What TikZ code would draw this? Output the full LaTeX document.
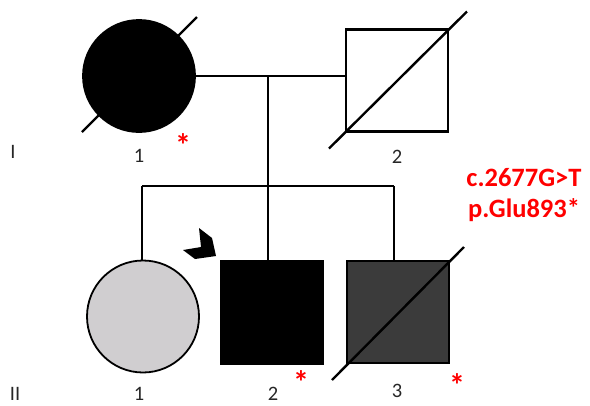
\documentclass[tikz,border=0pt]{standalone}
\usepackage{fontspec}
\setmainfont{Carlito}
\usetikzlibrary{calc}
\definecolor{mutred}{HTML}{FF0000}
\definecolor{carrier}{HTML}{D0CED0}
\definecolor{affdark}{HTML}{3B3B3B}

\begin{document}
\begin{tikzpicture}[x=1pt,y=-1pt,
  female/.style={circle,draw=black,line width=1.8pt,minimum size=112pt,inner sep=0pt},
  male/.style={rectangle,draw=black,line width=2.4pt,minimum width=102pt,minimum height=102pt,inner sep=0pt},
  link/.style={line width=2.4pt},
  deceased/.style={line width=2.4pt},
  lbl/.style={font=\fontsize{20.5}{24}\selectfont,text=black!85},
  mutstar/.style={font=\bfseries\fontsize{32}{34}\selectfont,text=mutred},
  variant/.style={font=\bfseries\fontsize{26.5}{30}\selectfont,text=mutred}]
  \useasboundingbox (0,0) rectangle (590,405);
  % generation I
  \node[female,fill=black] (I1) at (139,76) {};
  \node[male] (I2) at (397,80.5) {};
  \draw[deceased] ($(I1.center)+(-57,56)$) -- ($(I1.center)+(58,-59)$);
  \draw[deceased] ($(I2.center)+(-68,68)$) -- ($(I2.center)+(70,-69)$);
  \node[lbl] (gI) at (13,152) {I};
  \node[lbl] (lI1) at (139,155.5) {1};
  \node[lbl] (lI2) at (397,157) {2};
  \node[mutstar] (sI1) at (183,145) {*};
  % generation II
  \node[female,fill=carrier] (II1) at (143,316.5) {};
  \node[male,fill=black] (II2) at (272,312.5) {};
  \node[male,fill=affdark] (II3) at (398,312) {};
  \draw[deceased] ($(II3.center)+(-66,68)$) -- ($(II3.center)+(66,-65)$);
  \node[lbl] (gII) at (15,393.5) {II};
  \node[lbl] (lII1) at (139,393.5) {1};
  \node[lbl] (lII2) at (273,393.5) {2};
  \node[lbl] (lII3) at (397,391) {3};
  \node[mutstar] (sII2) at (301,382) {*};
  \node[mutstar] (sII3) at (457,385) {*};
  % proband
  \fill (199,228) -- (212,238) -- (216,256) -- (195,259) -- (183,250) -- (201,247) -- cycle;
  % lines of descent
  \coordinate (mate) at (268,76);
  \coordinate (sib) at (268,186);
  \coordinate (sibL) at (142,186);
  \coordinate (sibR) at (394,186);
  \draw[link] (I1.east) -- (I1.east -| I2.west);
  \draw[link] (mate) -- (sib);
  \draw[link] (sibL) -- (sibR);
  \draw[link] (sibL) -- (sibL |- II1.north);
  \draw[link] (sib) -- (sib |- II2.north);
  \draw[link] (sibR) -- (sibR |- II3.north);
  % variant
  \node[variant] (cdna) at (524,178) {c.2677G>T};
  \node[variant] (prot) at (524,210) {p.Glu893*};
\end{tikzpicture}
\end{document}
